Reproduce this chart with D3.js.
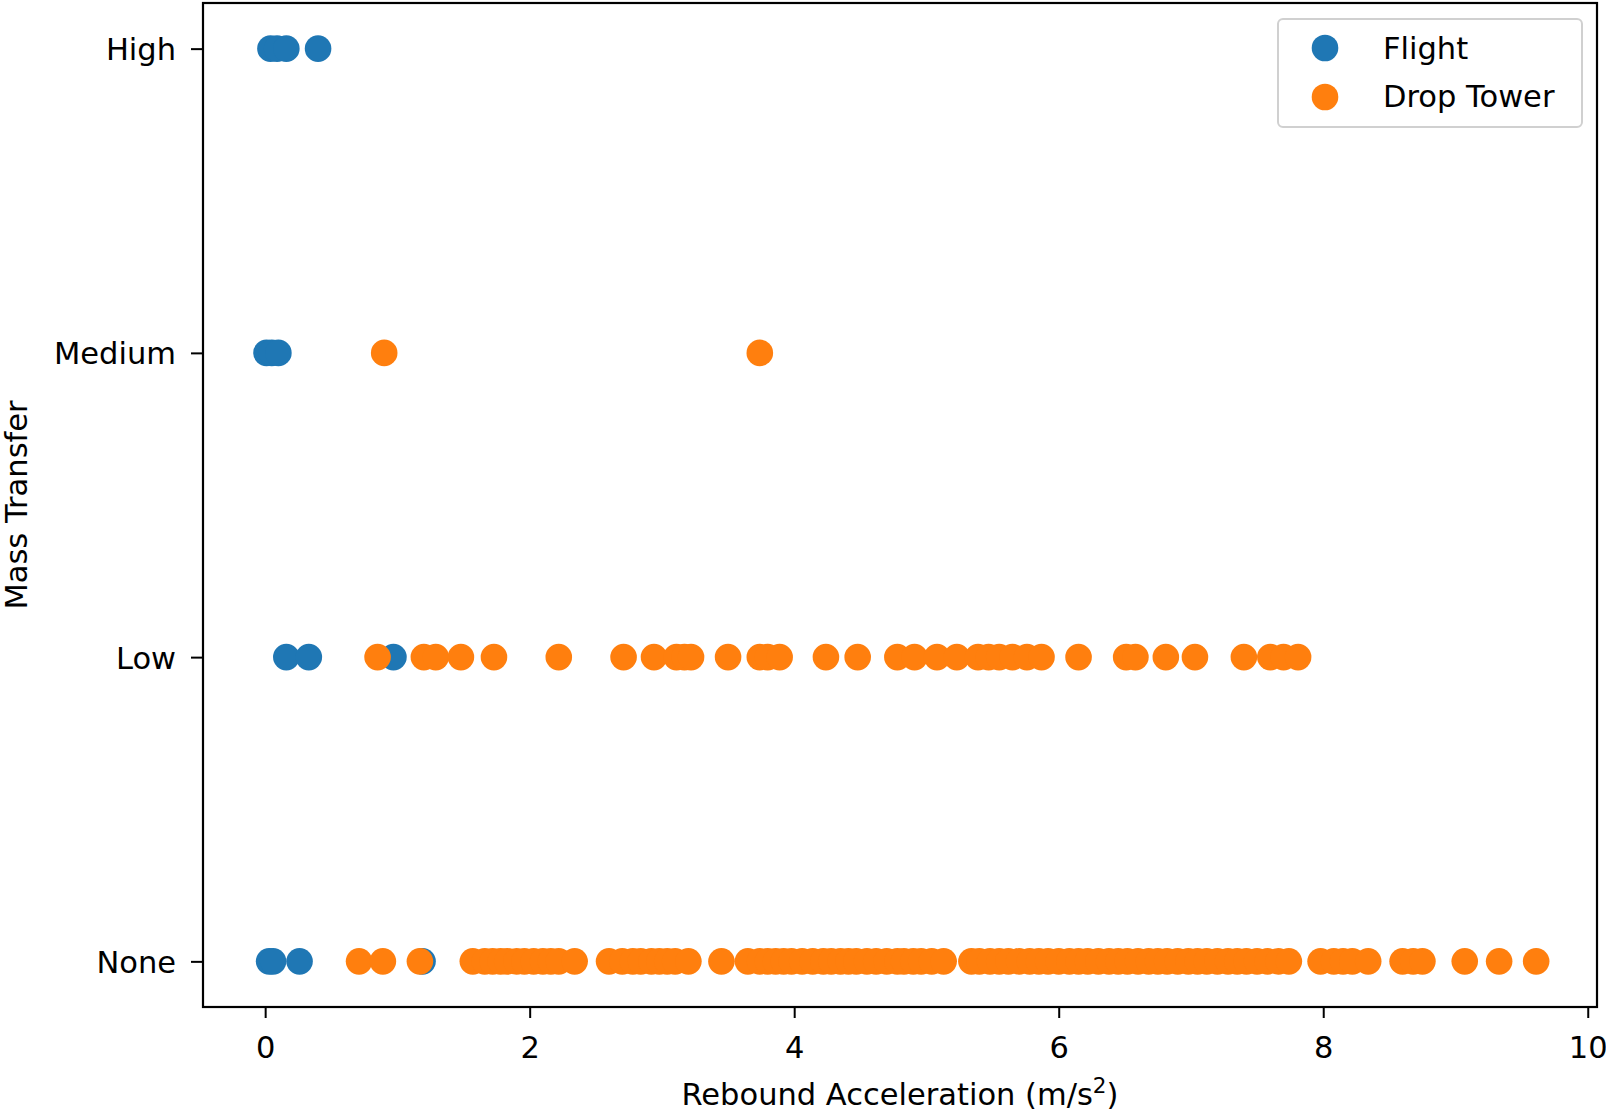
<!DOCTYPE html>
<html>
<head>
<meta charset="utf-8">
<script src="https://cdn.jsdelivr.net/npm/d3@7"></script>
<style>
body{margin:0;background:#fff;}
text{font-family:"DejaVu Sans",sans-serif;fill:#000;}
</style>
</head>
<body>
<div id="chart"></div>
<script>
// mass transfer levels, bottom to top
var levels = ["None", "Low", "Medium", "High"];
var xTicks = [0, 2, 4, 6, 8, 10];

// Flight points (rebound acceleration per level)
var flightNone = [0.03, 0.06, 0.26, 1.19];
var flightLow = [0.16, 0.33, 0.97];
var flightMedium = [0.01, 0.05, 0.10];
var flightHigh = [0.04, 0.09, 0.16, 0.40];

// Drop tower points
var dropNone = [0.71, 0.89, 1.17,
  1.57, 1.66, 1.72, 1.78, 1.83, 1.90, 1.96, 2.03, 2.10, 2.16, 2.22, 2.34,
  2.60, 2.70, 2.78, 2.84, 2.92, 2.98, 3.04, 3.10, 3.20,
  3.45,
  3.65, 3.74, 3.80, 3.86, 3.92, 3.98, 4.06, 4.14, 4.22, 4.28, 4.35, 4.41, 4.47, 4.55, 4.62, 4.70, 4.78, 4.83, 4.90, 4.96, 5.04, 5.13,
  5.34, 5.40, 5.48, 5.55, 5.62, 5.70, 5.78, 5.85, 5.92, 6.00, 6.08, 6.15, 6.22, 6.30, 6.38, 6.45, 6.52, 6.60, 6.68, 6.75, 6.82, 6.90, 6.98, 7.05, 7.12, 7.20, 7.28, 7.35, 7.42, 7.50, 7.58, 7.66, 7.74,
  7.98, 8.08, 8.15, 8.22, 8.34,
  8.60, 8.68, 8.75,
  9.07, 9.33, 9.61];
var dropLow = [0.85, 1.20, 1.29, 1.48, 1.73, 2.22, 2.71, 2.94, 3.11, 3.17, 3.22, 3.50,
  3.74, 3.80, 3.89, 4.24, 4.48, 4.78, 4.91, 5.08, 5.23, 5.39, 5.47, 5.55, 5.65, 5.76, 5.87,
  6.15, 6.51, 6.58, 6.81, 7.03, 7.40, 7.60, 7.70, 7.81];
var dropMedium = [0.90, 3.74];
var dropHigh = [];

var seriesNames = ["Flight", "Drop Tower"];
var colors = ["#1f77b4", "#ff7f0e"];

var W = 1606, H = 1115;
var pLeft = 203, pRight = 1597, pTop = 3, pBottom = 1007;
var r = 13.3;

var svg = d3.select("#chart").append("svg").attr("width", W).attr("height", H);

var x = d3.scaleLinear().domain([-0.47, 10.07]).range([pLeft, pRight]);
var y = d3.scaleLinear().domain([-0.15, 3.15]).range([pBottom, pTop]);

function toPoints(lists){
  var pts = [];
  for (var i = 0; i < lists.length; i++){
    for (var k = 0; k < lists[i].length; k++){
      pts.push({v: lists[i][k], lvl: i});
    }
  }
  return pts;
}
var flight = toPoints([flightNone, flightLow, flightMedium, flightHigh]);
var drop = toPoints([dropNone, dropLow, dropMedium, dropHigh]);

var plot = svg.append("g");
[flight, drop].forEach(function(pts, s){
  plot.selectAll(null).data(pts).enter().append("circle")
    .attr("cx", function(d){ return x(d.v); })
    .attr("cy", function(d){ return y(d.lvl); })
    .attr("r", r)
    .style("fill", colors[s]);
});

// x axis
var xAxis = svg.append("g").attr("transform", "translate(0," + pBottom + ")")
  .call(d3.axisBottom(x).tickValues(xTicks).tickSize(11).tickPadding(11).tickFormat(d3.format("d")));
xAxis.select(".domain").remove();
xAxis.selectAll("line").style("stroke", "#000").style("stroke-width", 2);
xAxis.selectAll("text").style("font-size", "30.5px").attr("dy", "0.95em");

// y axis
var yAxis = svg.append("g").attr("transform", "translate(" + pLeft + ",0)")
  .call(d3.axisLeft(y).tickValues([0, 1, 2, 3]).tickSize(12).tickPadding(15).tickFormat(function(d){ return levels[d]; }));
yAxis.select(".domain").remove();
yAxis.selectAll("line").style("stroke", "#000").style("stroke-width", 2);
yAxis.selectAll("text").style("font-size", "30.5px").attr("dy", "0.36em");

// frame
svg.append("rect").attr("x", pLeft).attr("y", pTop).attr("width", pRight - pLeft).attr("height", pBottom - pTop)
  .style("fill", "none").style("stroke", "#000").style("stroke-width", 2.2);

// axis labels
var xl = svg.append("text").attr("x", (pLeft + pRight) / 2).attr("y", 1105)
  .attr("text-anchor", "middle").style("font-size", "30.5px");
xl.append("tspan").text("Rebound Acceleration (m/s");
xl.append("tspan").attr("dy", -12).style("font-size", "21.5px").text("2");
xl.append("tspan").attr("dy", 12).text(")");

svg.append("text").attr("transform", "translate(27," + ((pTop + pBottom) / 2) + ") rotate(-90)")
  .attr("text-anchor", "middle").style("font-size", "30.5px").text("Mass Transfer");

// legend
var lg = svg.append("g");
lg.append("rect").attr("x", 1278).attr("y", 19).attr("width", 304).attr("height", 108).attr("rx", 5)
  .style("fill", "#fff").style("fill-opacity", 0.8).style("stroke", "#d0d0d0").style("stroke-width", 2);
seriesNames.forEach(function(name, i){
  lg.append("circle").attr("cx", 1325).attr("cy", 48 + i * 49).attr("r", r).style("fill", colors[i]);
  lg.append("text").attr("x", 1383).attr("y", 59 + i * 48).style("font-size", "30.5px").text(name);
});
</script>
</body>
</html>
